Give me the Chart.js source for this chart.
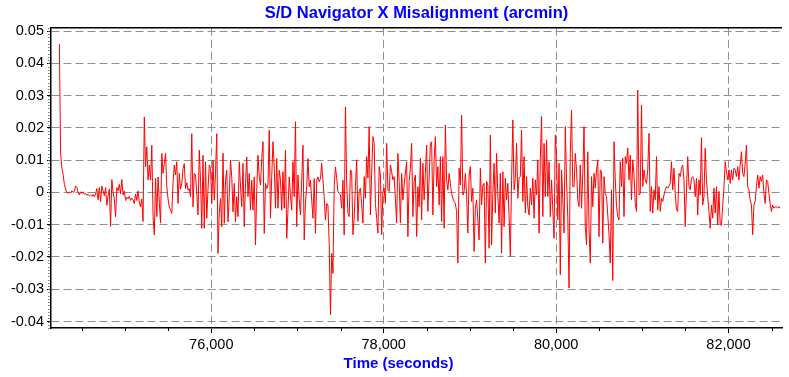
<!DOCTYPE html>
<html>
<head>
<meta charset="utf-8">
<script src="https://cdn.jsdelivr.net/npm/chart.js@4.4.1/dist/chart.umd.min.js"></script>
<style>
  html, body { margin: 0; padding: 0; background: #fff; }
  #wrap { width: 789px; height: 377px; }
</style>
</head>
<body>
<div id="wrap"><canvas id="misalignChart" width="789" height="377"></canvas></div>
<script>
// =========================
// DATA
// =========================
const chartTitle = "S/D Navigator X Misalignment (arcmin)";
const xAxisTitle = "Time (seconds)";

// evenly sampled signal: first sample time and spacing (seconds)
const sampleStart = 74238;
const sampleStep = 14.49;

// misalignment (arcmin)
const misalignment = [
    // settling + quiet stretch
    0.046, 0.012, 0.0075, 0.0055, 0.0025, 0.001, 0, -0.0003, 0.0002, -0.0002,
    0.0005, 0, 0.0003, 0.002, 0.0015, 0, -0.0008, 0.0002, -0.0003, 0.0002,
    -0.0006, -0.0003, -0.0009, -0.0006, -0.0011, -0.0008, -0.0012, -0.0006, -0.0013, -0.0005,
    0.0012, -0.0023, 0.0015, -0.0028, 0.002, 0.0005, -0.001, 0.0015, -0.004, -0.001,
    0.001, -0.0105, 0.004, 0, -0.002, -0.0075, 0.0015, 0.0005, 0.0025, -0.0005,
    0.004, -0.0008, 0.0005, -0.0025, -0.0015, -0.002, -0.0012, -0.0025, -0.0018, -0.0023,
    -0.0035, -0.0005, -0.0025, 0.0005, -0.003, -0.0045, -0.002, -0.009,
    // ~75,200 s onwards
    0.0234, 0.008, 0.0141, 0.0038, 0.0085, 0.0038, 0.0146, -0.0075, -0.0132, 0.0044,
    -0.0075, 0.0048, -0.003, -0.0095, 0.0121, 0.0059, 0.009, 0.0121, 0.0018, -0.002,
    -0.0045, -0.0055, -0.0065, 0.003, 0.0085, 0.0054, 0.0095, -0.0034, 0.0059, 0.001,
    0.0028, 0.0074, 0.0089, 0.0012, 0.003, 0.0007, 0.0012, -0.0013, 0.0182, -0.0045,
    0.0059, 0.0054, 0, -0.007, 0.0131, 0.0038, -0.0111,
    // ~76,000 - 77,700 s
    0.0115, -0.0111, 0.0095, -0.008, 0.001, 0.0085, 0.0074, -0.0034, 0.01, -0.0024,
    0.006, 0.0182, -0.0189, -0.0065, -0.0019, -0.0106, 0.0121, -0.0096, 0.0038, 0.0069,
    -0.0091, -0.0013, 0.01, 0.0048, -0.006, 0.0028, -0.0091, -0.0013, -0.0075, 0.0095,
    0.002, -0.0044, 0.009, -0.0106, 0.0028, 0.011, -0.0013, 0.0059, -0.0055, 0.0038,
    -0.0055, 0.0048, -0.0163, 0.0007, 0.0115, 0.005, 0.0023, 0.0105, 0.0157, -0.0127,
    0.0028, 0.0012, 0.0023, 0.0193, -0.008, 0.0048, 0.0157, 0.0079, -0.0049, 0.0105,
    -0.0049, 0.0069, 0.0038, -0.0055, 0.0064, -0.0049, 0.0131, -0.0142, -0.0055, 0.0048,
    -0.001, -0.0055, 0.0095, -0.0013, 0.0219, -0.0106, 0.0054, -0.002, -0.007, 0.0038,
    0.0146, -0.0147, -0.003, 0.0018, 0.0105, 0.0018, 0.0038, -0.0024, -0.008, 0.0043,
    -0.0127, 0.0038, 0.0048, 0.0033, 0.0043, 0.009, 0.0038, -0.0013, -0.0086, -0.0034,
    -0.0039, -0.0158, -0.0379, -0.0189, -0.0251, 0.0018, 0.0079, 0.0043, 0.0002, -0.0003,
    -0.0008, -0.0049, 0.0038, -0.0132, 0.0265, 0.0028, -0.0065,
    // ~77,700 - 79,400 s
    -0.0075, 0.007, 0.0064, -0.0131, -0.008, 0.002, 0.0101, -0.009, 0.0003, 0.0013,
    -0.0039, -0.0095, 0.0049, -0.0018, 0.0111, 0.0044, 0.0204, -0.007, 0.0059, 0.0173,
    0.0152, -0.0034, -0.008, -0.0126, 0.008, 0.0054, -0.0131, 0.0003, 0.0013, -0.0034,
    0.0152, 0.0008, 0.0003, 0.0085, 0.0064, 0.0039, 0.0049, -0.002, -0.0095, 0.0121,
    0.0034, -0.0095, 0.0059, -0.0023, 0.0023, 0.006, 0.0095, -0.0137, 0.0034, 0.0075,
    0.0152, -0.0075, 0.0034, 0.0054, -0.0137, 0.0018, -0.0044, 0.0106, -0.0085, 0.009,
    -0.0023, 0.0059, 0.0147, -0.0059, 0.0044, 0.0152, 0.0157, -0.007, 0.0101, 0.0173,
    0.0018, 0.008, -0.0039, 0.0111, -0.009, 0.0111, -0.0111, 0.0209, 0.0039, 0.0008,
    0.0059, 0.0028, -0.0003, -0.0018, -0.0028, -0.0034, -0.006, -0.0219, 0.0075, 0.0023,
    0.0239, -0.0008, 0.0003, 0.0059, -0.0008, -0.0126, 0.0054, 0.008, -0.0028, 0.0013,
    -0.0183, -0.005, -0.0023, -0.0085, -0.0147, 0.0075, -0.0039, 0.0023, 0.0028, -0.0219,
    0.0034, 0.0023, -0.0173, 0.0178,
    // ~79,400 - 81,100 s
    -0.0162, -0.0003, 0.009, -0.0064, 0.0121, -0.0008, -0.0095, 0.0059, -0.0188, 0.0064,
    -0.0106, 0.0044, -0.0023, 0.0028, -0.0075, -0.0198, 0.0039, 0.0224, 0.0008, 0.0044,
    0.0152, -0.0018, 0.0044, 0.0049, 0.0193, -0.0028, 0.0111, -0.0064, 0.0049, -0.0044,
    -0.007, 0.0013, -0.0039, 0.0044, -0.008, 0.0039, -0.0008, 0.0101, -0.0126, 0.0106,
    0.0235, -0.0075, 0.0152, -0.0013, 0.0162, -0.0013, 0.0095, -0.0075, 0.0039, -0.0054,
    -0.0142, 0.0178, 0.0111, -0.0085, 0.009, -0.0255, 0.007, -0.0023, -0.0126, 0.0204,
    0.0034, -0.008, -0.0296, 0.0121, 0.0255, 0.0018, 0.0018, 0.0121, 0.007, -0.0023,
    -0.0044, 0.0085, -0.0049, 0.0059, 0.0204, -0.0106, -0.0162, 0.0126, -0.0116, -0.0219,
    0.0049, -0.0044, 0.0059, 0.0013, 0.007, 0.0101, -0.0137, 0.007, 0.0064, -0.0157,
    0.0049, -0.0003, -0.0013, -0.007, -0.0131, -0.0219, 0.0008, -0.0273, 0.0157, 0.0039,
    -0.0044, -0.0075, -0.0085, 0.0095, 0.0018, 0.0106, -0.0075, 0.0111, 0.009, 0.0137,
    0.0039, 0.0116, -0.0023, 0.0101, 0.0054, -0.0034, -0.0059, 0.0317, -0.0008,
    // ~81,100 s to end
    -0.0003, 0.0271, 0.0018, 0.007, 0.0039, 0.0028, 0.007, 0.0183, -0.0059, 0.0018,
    -0.0064, 0.0008, -0.0023, 0.0111, -0.0054, 0.0018, -0.0059, -0.0018, -0.0028, -0.0008,
    0.0008, 0.0018, 0.0013, 0.002, 0.0028, 0.0095, 0.0008, 0.0075, -0.0003, -0.0054,
    -0.0059, 0.0059, 0.0049, 0.0075, 0.0085, 0.0039, -0.0106, 0.0008, 0.0111, 0.0018,
    0.0008, 0.0044, 0.0049, 0.0039, -0.0013, 0.0044, -0.007, 0.0039, -0.0008, 0.017,
    -0.0039, -0.0013, 0.0137, 0.004, -0.0013, -0.0059, -0.0111, -0.0039, -0.008, 0.0013,
    -0.0064, 0.0018, -0.0101, 0.0003, -0.0101, -0.0101, -0.004, 0.0013, 0.0095, 0.0064,
    0.0039, 0.007, 0.0028, 0.007, 0.0039, 0.0075, 0.007, 0.0049, 0.008, 0.0039,
    0.0085, 0.0126, 0.0059, 0.0049, 0.009, 0.0147, 0.0018, 0.0008, -0.0023, -0.0039,
    -0.0131, -0.0039, -0.0028, 0.0018, 0.0054, 0.0013, 0.0049, 0.0034, 0.0054, -0.0003,
    -0.0034, 0.0039, 0.0034, -0.0003, -0.0035, -0.0059, -0.0039, -0.0049, -0.0045, -0.0044,
    -0.0049, -0.0044, -0.0049
];

const xTicks = [76000, 78000, 80000, 82000];
const xMinorTicks = [74500, 75000, 75500, 76500, 77000, 77500, 78500, 79000, 79500, 80500, 81000, 81500, 82500];
const yTicks = [-0.04, -0.03, -0.02, -0.01, 0, 0.01, 0.02, 0.03, 0.04, 0.05];

// =========================
// STYLE
// =========================
const FONT = "'Liberation Sans', Arial, sans-serif";
const GRID_GRAY = '#8f8f8f';
const TITLE_BLUE = '#0000ff';

// =========================
// PLUGINS
// =========================
// top frame line, minor ticks on both axes, x axis title
const axisExtras = {
    id: 'axisExtras',
    afterDraw(chart) {
        const { ctx, chartArea, scales: { x, y } } = chart;
        ctx.save();

        ctx.strokeStyle = '#000';
        ctx.lineWidth = 1.5;
        ctx.beginPath();
        ctx.moveTo(chartArea.left, chartArea.top);
        ctx.lineTo(chartArea.right, chartArea.top);
        ctx.stroke();

        ctx.lineWidth = 1;
        ctx.beginPath();
        xMinorTicks.forEach(v => {
            const px = Math.round(x.getPixelForValue(v)) + 0.5;
            ctx.moveTo(px, chartArea.bottom);
            ctx.lineTo(px, chartArea.bottom + 3);
        });
        ctx.stroke();

        ctx.fillStyle = '#777';
        for (let k = Math.ceil(y.min * 1000); k <= Math.floor(y.max * 1000); k++) {
            const py = Math.round(y.getPixelForValue(k / 1000));
            ctx.fillRect(chartArea.left - 3, py, 1.5, 1);
        }

        ctx.fillStyle = TITLE_BLUE;
        ctx.font = "bold 15px " + FONT;
        ctx.textAlign = 'center';
        ctx.textBaseline = 'middle';
        ctx.fillText(xAxisTitle, chart.width / 2 + 4, 364);
        ctx.restore();
    }
};

// =========================
// CHART
// =========================
const ctx = document.getElementById('misalignChart').getContext('2d');

new Chart(ctx, {
    type: 'line',
    data: {
        datasets: [{
            label: chartTitle,
            data: misalignment.map((v, i) => ({ x: sampleStart + i * sampleStep, y: v })),
            borderColor: '#ff0000',
            borderWidth: 1,
            pointRadius: 0,
            tension: 0,
            fill: false
        }]
    },
    options: {
        responsive: false,
        animation: false,
        layout: { padding: { left: 0, right: 7, top: 0, bottom: 0 } },
        plugins: {
            legend: { display: false },
            tooltip: { enabled: false },
            title: {
                display: true,
                text: chartTitle,
                fullSize: false,
                color: TITLE_BLUE,
                font: { family: FONT, size: 16.5, weight: 'bold' },
                padding: { top: 4, bottom: 4 }
            }
        },
        scales: {
            x: {
                type: 'linear',
                min: 74141,
                max: 82620,
                afterBuildTicks: s => { s.ticks = xTicks.map(v => ({ value: v })); },
                afterFit: s => { s.height = 49; },
                ticks: {
                    color: '#000',
                    font: { family: FONT, size: 14.5 },
                    padding: 3,
                    maxRotation: 0,
                    callback: v => v.toLocaleString('en-US')
                },
                grid: { color: GRID_GRAY, lineWidth: 1, tickColor: '#000', tickLength: 5 },
                border: { display: true, color: '#000', width: 1.5, dash: [8, 4] }
            },
            y: {
                min: -0.042,
                max: 0.051,
                afterBuildTicks: s => { s.ticks = yTicks.map(v => ({ value: v })); },
                afterFit: s => { s.width = 51; },
                ticks: {
                    color: '#000',
                    font: { family: FONT, size: 14.5 },
                    padding: 3,
                    callback: v => (v === 0 ? '0' : v.toFixed(2))
                },
                grid: { color: GRID_GRAY, lineWidth: 1, tickColor: '#000', tickLength: 4 },
                border: { display: true, color: '#000', width: 1.5, dash: [8, 4] }
            }
        }
    },
    plugins: [axisExtras]
});
</script>
</body>
</html>
